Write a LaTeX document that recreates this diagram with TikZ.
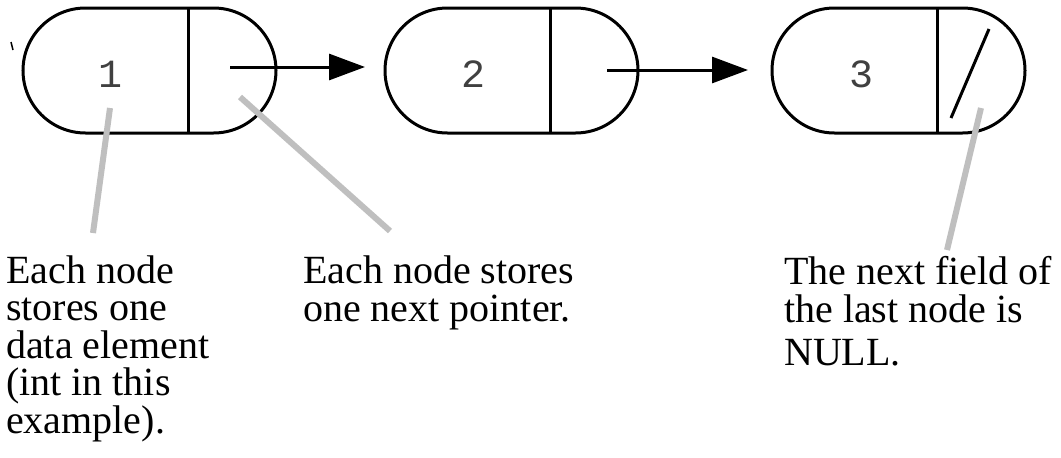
\documentclass[tikz,border=0pt]{standalone}
\usepackage{fontspec}
\setmainfont{Liberation Serif}
\newfontfamily\digitfont{Liberation Mono}
\usetikzlibrary{arrows.meta,shapes.misc}

\tikzset{
  listnode/.style={rounded rectangle, draw=black, line width=3pt,
    minimum width=253pt, minimum height=125pt, inner sep=0pt, outer sep=0pt},
  divider/.style={line width=3pt},
  datum/.style={font=\digitfont\fontsize{40pt}{40pt}\selectfont, text=black!75,
    anchor=base, inner sep=0pt},
  link/.style={line width=3pt, -{Triangle[length=36pt,width=26pt]}},
  nullmark/.style={line width=3pt},
  leader/.style={line width=6pt, draw={rgb,255:red,191;green,191;blue,191}},
  caption/.style={font=\fontsize{40pt}{37.5pt}\selectfont, align=left,
    anchor=base west, inner sep=0pt}
}

\begin{document}
\begin{tikzpicture}[x=1pt,y=-1pt]
  \useasboundingbox (0,0) rectangle (1061,458);
  \fill[white] (0,0) rectangle (1061,458);

  % the three list nodes
  \node[listnode] (n1) at (149.5,70.5) {};
  \node[listnode] (n2) at (511.5,70.5) {};
  \node[listnode] (n3) at (898.5,70.5) {};

  % data / next field dividers
  \coordinate (d1t) at (188.5,8);   \coordinate (d1b) at (188.5,133);
  \coordinate (d2t) at (550.5,8);   \coordinate (d2b) at (550.5,133);
  \coordinate (d3t) at (937.5,8);   \coordinate (d3b) at (937.5,133);
  \draw[divider] (d1t) -- (d1b);
  \draw[divider] (d2t) -- (d2b);
  \draw[divider] (d3t) -- (d3b);

  % stored values
  \node[datum] (v1) at (111,87) {1};
  \node[datum] (v2) at (473,87) {2};
  \node[datum] (v3) at (861,87) {3};

  % next pointers
  \coordinate (p1) at (230,67);  \coordinate (t1) at (365,67);
  \coordinate (p2) at (607,70);  \coordinate (t2) at (748,70);
  \draw[link] (p1) -- (t1);
  \draw[link] (p2) -- (t2);

  % NULL pointer in the last node
  \coordinate (s1) at (951,118); \coordinate (s2) at (989,29);
  \draw[nullmark] (s1) -- (s2);

  % small tick at the left edge
  \coordinate (k1) at (11,42); \coordinate (k2) at (13,50);
  \draw[line width=1.5pt] (k1) -- (k2);

  % captions (anchored at the baseline of their last line)
  \node[caption] (c1) at (6,433) {Each node\\stores one\\data element\\(int in this\\example).};
  \node[caption] (c2) at (303,321) {Each node stores\\one next pointer.};
  \node[caption] (c3) at (784,365) {The next field of\\the last node is\\[5.5pt]NULL.};

  % leader lines from captions to the parts they describe
  \coordinate (a1) at (110,108);  \coordinate (b1) at (93,233);
  \coordinate (a2) at (240,97);   \coordinate (b2) at (390,231);
  \coordinate (a3) at (981,108);  \coordinate (b3) at (947,250);
  \draw[leader] (a1) -- (b1);
  \draw[leader] (a2) -- (b2);
  \draw[leader] (a3) -- (b3);
\end{tikzpicture}
\end{document}
